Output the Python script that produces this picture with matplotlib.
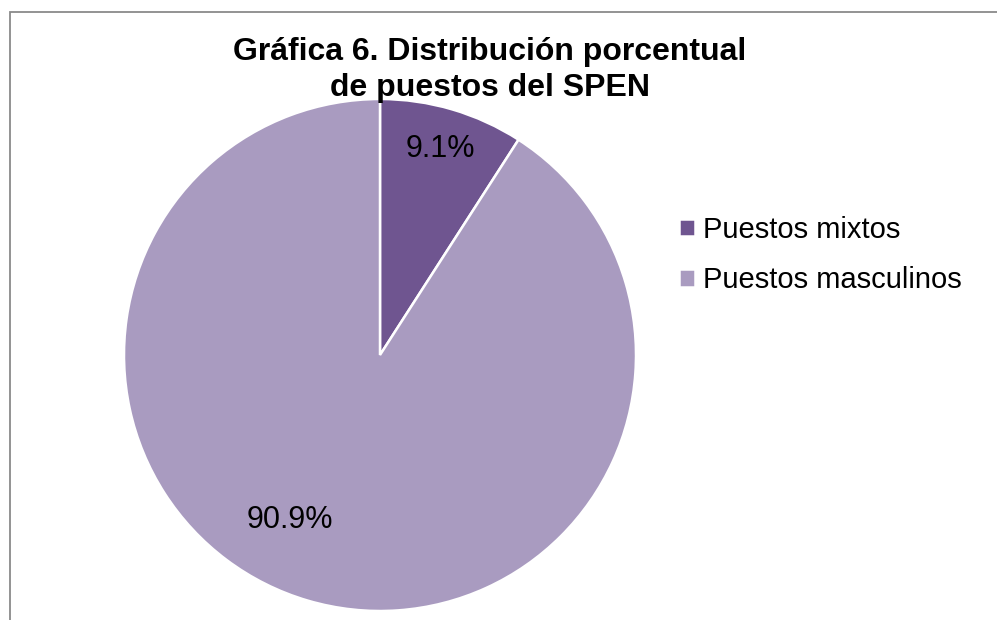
import matplotlib
matplotlib.use("Agg")
import matplotlib.pyplot as plt
from matplotlib.patches import Rectangle

# data
labels = ["Puestos mixtos", "Puestos masculinos"]
values = [9.1, 90.9]
colors = ["#6f5590", "#a99bc0"]
title_lines = ["Gráfica 6. Distribución porcentual", "de puestos del SPEN"]

plt.rcParams['font.family'] = ['Liberation Sans', 'DejaVu Sans']

fig = plt.figure(figsize=(9.97, 6.2), dpi=100)

# chart border (cut off at right and bottom like the reference)
fig.patches.append(Rectangle((10 / 997, -0.1), 1.2, 1 - 12 / 620 + 0.1,
                             transform=fig.transFigure, fill=False,
                             edgecolor="#8a8a8a", linewidth=1.3))

ax = fig.add_axes([124 / 997, 9 / 620, 512 / 997, 512 / 620])
wedges, texts, autotexts = ax.pie(values, colors=colors, startangle=90,
                                  counterclock=False, autopct="%.1f%%",
                                  pctdistance=0.84,
                                  wedgeprops=dict(edgecolor="white", linewidth=1.8),
                                  textprops=dict(fontsize=22, color="black"))
# Excel places the big label further in
autotexts[1].set_position((-0.352, -0.645))
ax.set_xlim(-1, 1)
ax.set_ylim(-1, 1)
ax.set_aspect("equal")

fig.text(490 / 997, 1 - 60 / 620, title_lines[0], ha="center", va="baseline",
         fontsize=23, fontweight="bold")
fig.text(490 / 997, 1 - 96 / 620, title_lines[1], ha="center", va="baseline",
         fontsize=23, fontweight="bold")

fig.legend(wedges, labels, loc="upper left", bbox_to_anchor=(667 / 997, 1 - 204 / 620),
           frameon=False, fontsize=21, handlelength=0.55, handleheight=0.55,
           handletextpad=0.3, labelspacing=0.78, borderaxespad=0)

fig.savefig("out.png", dpi=100)
